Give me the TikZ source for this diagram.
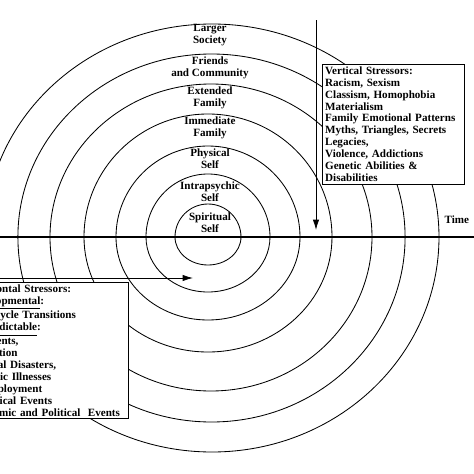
\documentclass[tikz,border=0pt]{standalone}
\usepackage{fontspec}
\setmainfont{Liberation Serif}
\usetikzlibrary{arrows.meta}
\newcommand{\figfont}{\bfseries\fontsize{7.9}{8.5}\selectfont\hyphenpenalty=10000\exhyphenpenalty=10000}
\tikzset{
  ring/.style={line width=0.6pt},
  ringlabel/.style={font=\figfont, align=center, inner sep=0pt},
  stressbox/.style={draw, fill=white, line width=0.5pt, align=left, inner xsep=2pt, inner ysep=1.5pt, font=\figfont},
  flow/.style={line width=0.6pt, -{Latex[length=2.6mm,width=1.6mm]}}
}
\begin{document}
\begin{tikzpicture}
\useasboundingbox (-5.2,-5.925) rectangle (6.65,5.925);
\clip (-5.2,-5.925) rectangle (6.65,5.925);

% rings: upper half, then lower half
\draw[ring] (0.825,0) arc[start angle=0,end angle=180,x radius=0.825,y radius=0.825] arc[start angle=180,end angle=360,x radius=0.825,y radius=0.7];
\draw[ring] (1.55,0) arc[start angle=0,end angle=180,x radius=1.55,y radius=1.575] arc[start angle=180,end angle=360,x radius=1.55,y radius=1.375];
\draw[ring] (2.3,0) arc[start angle=0,end angle=180,x radius=2.3,y radius=2.275] arc[start angle=180,end angle=360,x radius=2.3,y radius=2.075];
\draw[ring] (3.1,0) arc[start angle=0,end angle=180,x radius=3.1,y radius=3.075] arc[start angle=180,end angle=360,x radius=3.1,y radius=2.875];
\draw[ring] (4.1,0) arc[start angle=0,end angle=180,x radius=4.025,y radius=3.825] arc[start angle=180,end angle=360,x radius=4.025,y radius=3.85];
\draw[ring] (4.9275,0) arc[start angle=0,end angle=180,x radius=4.84,y radius=4.575] arc[start angle=180,end angle=360,x radius=4.84,y radius=4.625];
\draw[ring] (5.775,0) arc[start angle=0,end angle=180,x radius=5.675,y radius=5.325] arc[start angle=180,end angle=360,x radius=5.675,y radius=5.375];

% time axis
\coordinate (tleft) at (-5.2,0); \coordinate (tright) at (6.65,0);
\draw[line width=1.5pt] (tleft)--(tright);
\node[ringlabel] (time) at (6.22,0.425){Time};

% ring labels
\node[ringlabel] (society) at (0.05,5.05){Larger\\Society};
\node[ringlabel] (friends) at (0.05,4.2375){Friends\\and Community};
\node[ringlabel] (extended) at (0.05,3.475){Extended\\Family};
\node[ringlabel] (immediate) at (0.05,2.7375){Immediate\\Family};
\node[ringlabel] (physical) at (0.05,1.95){Physical\\Self};
\node[ringlabel] (intra) at (0.05,1.1375){Intrapsychic\\Self};
\node[ringlabel] (spirit) at (0.05,0.35){Spiritual\\Self};

% vertical stressors
\coordinate (vtop) at (2.7,5.425); \coordinate (vtip) at (2.7,0.175);
\draw[flow] (vtop)--(vtip);
\node[stressbox, anchor=north west, text width=3.41cm] (vert) at (2.85,4.325){Vertical Stressors:\\Racism, Sexism\\Classism, Homophobia\\Materialism\\Family Emotional Patterns\\Myths, Triangles, Secrets\\Legacies,\\Violence, Addictions\\Genetic Abilities \&\\Disabilities};

% horizontal stressors
\coordinate (hstart) at (-5.3,-1.025); \coordinate (htip) at (-0.375,-1.025);
\draw[flow] (hstart)--(htip);
\node[stressbox, anchor=north east, text width=3.91cm] (horiz) at (-1.975,-1.125){Horizontal Stressors:\\\underline{Developmental}:\\Life Cycle Transitions\\\underline{Unpredictable}:\\Accidents,\\Migration\\Natural Disasters,\\Chronic Illnesses\\Unemployment\\Historical Events\\Economic and Political\ \ Events};
\end{tikzpicture}
\end{document}
